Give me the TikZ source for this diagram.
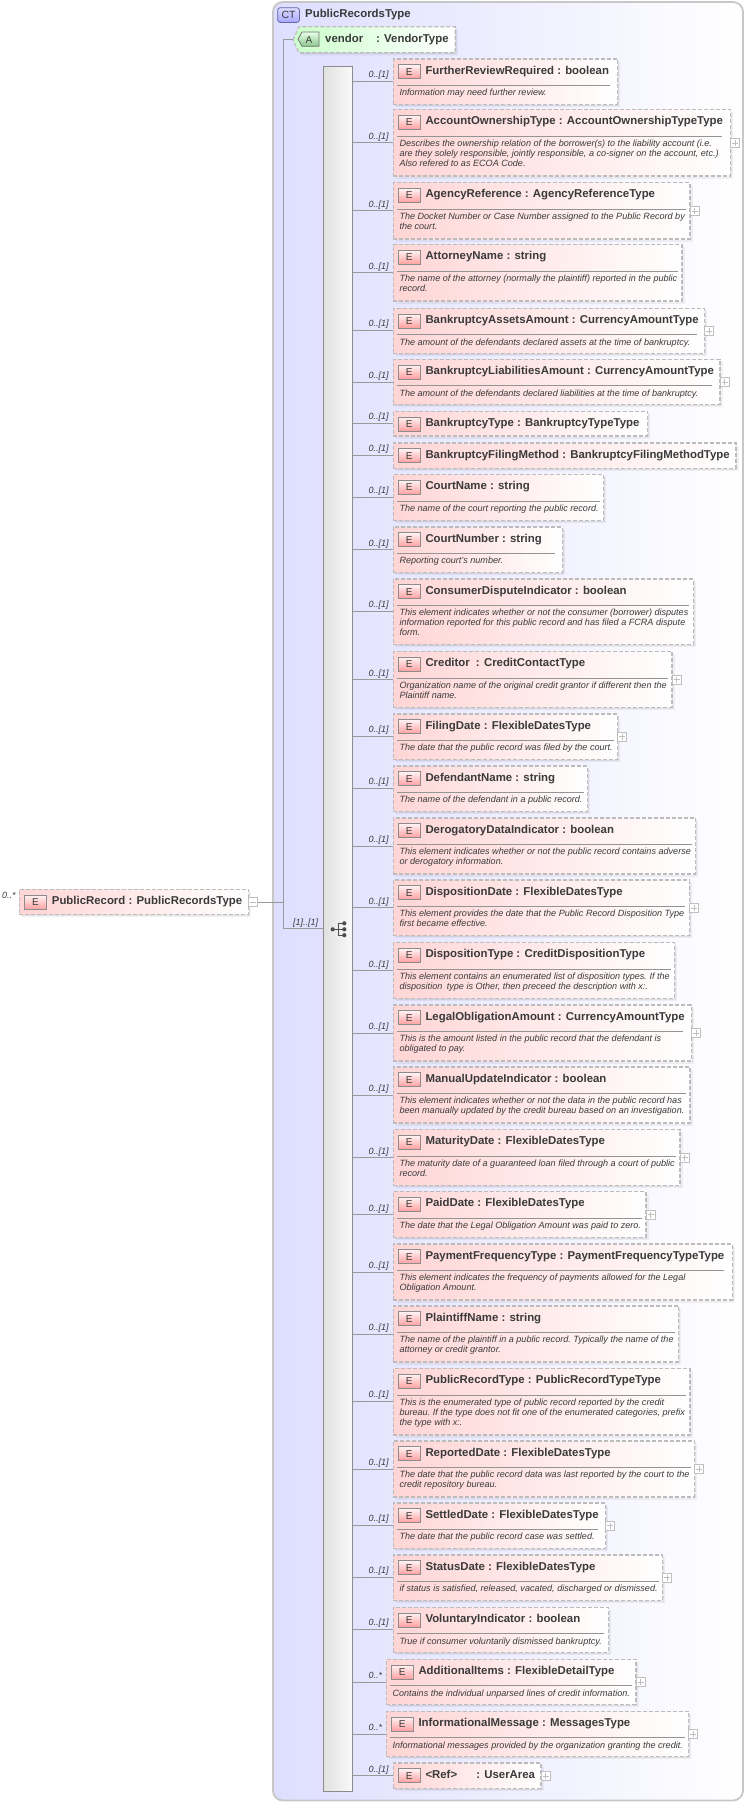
\documentclass[tikz,border=0pt]{standalone}
\usepackage{fontspec}
\setmainfont{Liberation Sans}
\usetikzlibrary{fit,calc}
\definecolor{txt}{HTML}{3A3A3A}
\definecolor{dashc}{HTML}{BCBCBC}
\definecolor{conc}{HTML}{9A9A9A}
\definecolor{pinkl}{HTML}{FFD5D5}
\tikzset{
 softshadow/.style={preaction={fill=black,fill opacity=.06,transform canvas={shift={(1.2pt,-1.2pt)}}},preaction={fill=black,fill opacity=.05,transform canvas={shift={(2.6pt,-2.6pt)}}}},
 elembox/.style={fit={#1},inner sep=0pt,outer sep=0pt,softshadow,draw=dashc,line width=1.2pt,dash pattern=on 4pt off 2pt,left color=pinkl,right color=white},
 conn/.style={draw=conc,line width=.9pt},
 eicon/.style={draw=black!45,line width=.8pt,top color=red!5,bottom color=red!38,minimum width=21.5pt,minimum height=14pt,inner sep=0pt,anchor=north west,text=txt,font=\fontsize{10}{12}\selectfont},
 titletext/.style={inner sep=0pt,anchor=base west,text=txt,font=\fontsize{11.4}{13}\selectfont\bfseries},
 desctext/.style={inner sep=0pt,anchor=north west,align=left,text=txt,font=\fontsize{9.07}{10}\selectfont\itshape\frenchspacing},
 cardtext/.style={inner sep=0pt,anchor=west,text=txt,font=\fontsize{9}{11}\selectfont\itshape},
 expbox/.style={draw=black!25,fill=white,line width=.7pt,minimum size=9pt,inner sep=0pt,outer sep=0pt,anchor=west},
 divline/.style={draw=black!42,line width=.8pt},
}
% id, left, top, right, bottom, label y, cardinality, divider inset, title, description
\newcommand{\elem}[9]{%
 \node[elembox={(#2,#3)(#4,#5)}] (#1) {};
 \draw[conn] (#1.west) -- (#1.west -| seq.east);
 \node[eicon] (#1-i) at (#2+4.7,#3+5.4) {E};
 \node[titletext] (#1-t) at (#2+32,#3+15.1) {#9};
 \node[cardtext] (#1-c) at (368.3,#6) {#7};
 \coordinate (#1-da) at (#2+4,#3+26.3);
 \coordinate (#1-db) at (#4-#8,#3+26.3);
 \elemdesc{#1}{#2}{#3}}
\newcommand{\elemdesc}[4]{\draw[divline] (#1-da) -- (#1-db);
 \node[desctext] (#1-d) at (#2+6,#3+29.7) {\rule{0pt}{7pt}#4};}
% no description
\newcommand{\elemplain}[8]{%
 \node[elembox={(#2,#3)(#4,#5)}] (#1) {};
 \draw[conn] (#1.west) -- (#1.west -| seq.east);
 \node[eicon] (#1-i) at (#2+4.7,#3+5.4) {E};
 \node[titletext] (#1-t) at (#2+32,#3+15.1) {#8};
 \node[cardtext] (#1-c) at (368.3,#6) {#7};}
\newcommand{\expbtn}[1]{%
 \node[expbox] (#1-x) at (#1.east) {};
 \draw[draw=black!25,line width=.6pt] ($(#1-x.center)+(-3,0)$) -- ($(#1-x.center)+(3,0)$) ($(#1-x.center)+(0,-3)$) -- ($(#1-x.center)+(0,3)$);}
\begin{document}
\begin{tikzpicture}[x=1pt,y=-1pt]
\useasboundingbox (0,0) rectangle (748,1805);
\fill[white] (0,0) rectangle (748,1805);
% outer complex type
\node[fit={(272.9,2)(743,1800.5)},inner sep=0pt,draw=black!22,line width=1.8pt,rounded corners=10pt,left color=blue!13,right color=white] (ct) {};
\node[draw=black!60!blue!60,line width=.8pt,rounded corners=2.5pt,top color=blue!14,bottom color=blue!34,minimum width=21.7pt,minimum height=14.7pt,inner sep=0pt,anchor=north west,text=txt,font=\fontsize{10.5}{12}\selectfont] (cti) at (277.3,7.3) {CT};
\node[titletext] (ctt) at (305,17.6) {PublicRecordsType};
% root element
\node[elembox={(19.3,889.3)(248.7,914.7)}] (root) {};
\node[eicon] (root-i) at (24.3,895) {E};
\node[titletext] (root-t) at (51.7,904.6) {PublicRecord : PublicRecordsType};
\node[cardtext] (root-c) at (2,895.5) {0..*};
\node[expbox] (root-x) at (root.east) {};
\draw[draw=black!25,line width=.6pt] ($(root-x.center)+(-3,0)$) -- ($(root-x.center)+(3,0)$);
\coordinate (fork) at (283.3,902);
% sequence bar
\node[fit={(323,66)(352.7,1791)},inner sep=0pt,outer sep=0pt,draw=black!45,line width=.9pt,left color=black!12,right color=black!2] (seq) {};
\draw[conn] (root-x.east) -- (fork);
\draw[conn] (seq.west) -| (fork);
\node[cardtext] (seq-c) at (293,922.7) {[1]..[1]};
% sequence glyph
\fill[black!70] (332.7,929.3) circle (2.1) (344.3,923.3) circle (2.1) (344.3,929.3) circle (2.1) (344.3,935.2) circle (2.1);
\draw[black!70,line width=.9pt] (332.7,929.3) -- (344.3,929.3) (338.3,923.3) -- (338.3,935.2) (338.3,923.3) -- (344.3,923.3) (338.3,935.2) -- (344.3,935.2);
% vendor attribute
\path[softshadow,draw=dashc,line width=1.2pt,dash pattern=on 4pt off 2pt,left color=green!20,right color=white] (293,40) -- (299,26.7) -- (455.3,26.7) -- (455.3,52.7) -- (299,52.7) -- cycle;
\node[inner sep=0pt,outer sep=0pt,minimum width=162.3pt,minimum height=26pt,anchor=north west] (vendor) at (293,26.7) {};
\draw[conn] (vendor.west) -| (fork);
\draw[draw=black!55,line width=.8pt,top color=green!10,bottom color=green!50!black!45] (302,32) -- (319,32) -- (319,46.3) -- (302,46.3) -- (298,39.2) -- cycle;
\node[inner sep=0pt,text=txt,font=\fontsize{10}{12}\selectfont] (vendor-i) at (309,39.6) {A};
\node[titletext] (vendor-t) at (325,42.8) {vendor};
\node[titletext] (vendor-u) at (376,42.8) {: VendorType};
% elements
\elem{e1}{393.3}{59}{617.4}{104.3}{75.5}{0..[1]}{7}{FurtherReviewRequired : boolean}{Information may need further review.}
\elem{e2}{393.3}{109.7}{730.4}{176}{136.7}{0..[1]}{8}{AccountOwnershipType : AccountOwnershipTypeType}{Describes the ownership relation of the borrower(s) to the liability account (i.e.\\are they solely responsible, jointly responsible, a co-signer on the account, etc.)\\Also refered to as ECOA Code.}\expbtn{e2}
\elem{e3}{393.3}{182.7}{690}{239}{204.7}{0..[1]}{4}{AgencyReference : AgencyReferenceType}{The Docket Number or Case Number assigned to the Public Record by\\the court.}\expbtn{e3}
\elem{e4}{393.3}{244.7}{682}{301}{266.7}{0..[1]}{4}{AttorneyName : string}{The name of the attorney (normally the plaintiff) reported in the public\\record.}
\elem{e5}{393.3}{308.3}{704.7}{353.3}{324.3}{0..[1]}{8}{BankruptcyAssetsAmount : CurrencyAmountType}{The amount of the defendants declared assets at the time of bankruptcy.}\expbtn{e5}
\elem{e6}{393.3}{359.3}{720}{404.7}{375.7}{0..[1]}{8}{BankruptcyLiabilitiesAmount : CurrencyAmountType}{The amount of the defendants declared liabilities at the time of bankruptcy.}\expbtn{e6}
\elemplain{e7}{393.3}{411.3}{647.7}{436}{417.3}{0..[1]}{BankruptcyType : BankruptcyTypeType}
\elemplain{e8}{393.3}{443}{736}{468.3}{449.3}{0..[1]}{BankruptcyFilingMethod : BankruptcyFilingMethodType}
\elem{e9}{393.3}{474.7}{603.7}{520.3}{491.3}{0..[1]}{4}{CourtName : string}{The name of the court reporting the public record.}
\elem{e10}{393.3}{527}{562.7}{572.3}{543.7}{0..[1]}{8}{CourtNumber : string}{Reporting court's number.}
\elem{e11}{393.3}{579}{693.3}{644.7}{605.3}{0..[1]}{4}{ConsumerDisputeIndicator : boolean}{This element indicates whether or not the consumer (borrower) disputes\\information reported for this public record and has filed a FCRA dispute\\form.}
\elem{e12}{393.3}{651.7}{672}{707.7}{673.7}{0..[1]}{4}{Creditor\hspace{3pt} : CreditContactType}{Organization name of the original credit grantor if different then the\\Plaintiff name.}\expbtn{e12}
\elem{e13}{393.3}{714}{617.7}{759.3}{730}{0..[1]}{4}{FilingDate : FlexibleDatesType}{The date that the public record was filed by the court.}\expbtn{e13}
\elem{e14}{393.3}{766}{587.7}{811.3}{782}{0..[1]}{4}{DefendantName : string}{The name of the defendant in a public record.}
\elem{e15}{393.3}{818}{695.7}{874}{839.7}{0..[1]}{4}{DerogatoryDataIndicator : boolean}{This element indicates whether or not the public record contains adverse\\or derogatory information.}
\elem{e16}{393.3}{880}{689.3}{935.7}{901.7}{0..[1]}{4}{DispositionDate : FlexibleDatesType}{This element provides the date that the Public Record Disposition Type\\first became effective.}\expbtn{e16}
\elem{e17}{393.3}{942.7}{674.7}{998.7}{964.7}{0..[1]}{4}{DispositionType : CreditDispositionType}{This element contains an enumerated list of disposition types. If the\\disposition\hspace{2pt} type is Other, then preceed the description with x:.}
\elem{e18}{393.3}{1005}{691.3}{1061}{1026.7}{0..[1]}{8}{LegalObligationAmount : CurrencyAmountType}{This is the amount listed in the public record that the defendant is\\obligated to pay.}\expbtn{e18}
\elem{e19}{393.3}{1067}{690}{1123}{1088.7}{0..[1]}{4}{ManualUpdateIndicator : boolean}{This element indicates whether or not the data in the public record has\\been manually updated by the credit bureau based on an investigation.}
\elem{e20}{393.3}{1129.7}{680}{1185.7}{1151.7}{0..[1]}{4}{MaturityDate : FlexibleDatesType}{The maturity date of a guaranteed loan filed through a court of public\\record.}\expbtn{e20}
\elem{e21}{393.3}{1191.7}{646}{1237.3}{1208.7}{0..[1]}{4}{PaidDate : FlexibleDatesType}{The date that the Legal Obligation Amount was paid to zero.}\expbtn{e21}
\elem{e22}{393.3}{1244}{732.3}{1300}{1265.7}{0..[1]}{8}{PaymentFrequencyType : PaymentFrequencyTypeType}{This element indicates the frequency of payments allowed for the Legal\\Obligation Amount.}
\elem{e23}{393.3}{1306}{678.7}{1362}{1327.7}{0..[1]}{4}{PlaintiffName : string}{The name of the plaintiff in a public record. Typically the name of the\\attorney or credit grantor.}
\elem{e24}{393.3}{1368.7}{690}{1435}{1395.3}{0..[1]}{4}{PublicRecordType : PublicRecordTypeType}{This is the enumerated type of public record reported by the credit\\bureau. If the type does not fit one of the enumerated categories, prefix\\the type with x:.}
\elem{e25}{393.3}{1441}{694.7}{1497}{1462.7}{0..[1]}{4}{ReportedDate : FlexibleDatesType}{The date that the public record data was last reported by the court to the\\credit repository bureau.}\expbtn{e25}
\elem{e26}{393.3}{1503}{605.7}{1548.3}{1519.3}{0..[1]}{8}{SettledDate : FlexibleDatesType}{The date that the public record case was settled.}\expbtn{e26}
\elem{e27}{393.3}{1555}{662.7}{1600.3}{1571.3}{0..[1]}{4}{StatusDate : FlexibleDatesType}{if status is satisfied, released, vacated, discharged or dismissed.}\expbtn{e27}
\elem{e28}{393.3}{1607.3}{608.3}{1652.3}{1623.3}{0..[1]}{4}{VoluntaryIndicator : boolean}{True if consumer voluntarily dismissed bankruptcy.}
\elem{e29}{386.3}{1659.3}{636}{1704.7}{1675}{0..*}{4}{AdditionalItems : FlexibleDetailType}{Contains the individual unparsed lines of credit information.}\expbtn{e29}
\elem{e30}{386.3}{1711.3}{688.7}{1756.7}{1727}{0..*}{4}{InformationalMessage : MessagesType}{Informational messages provided by the organization granting the credit.}\expbtn{e30}
\elemplain{e31}{393.3}{1763}{541}{1788.7}{1770}{0..[1]}{<Ref>\hspace{16pt} : UserArea}\expbtn{e31}
\end{tikzpicture}
\end{document}
